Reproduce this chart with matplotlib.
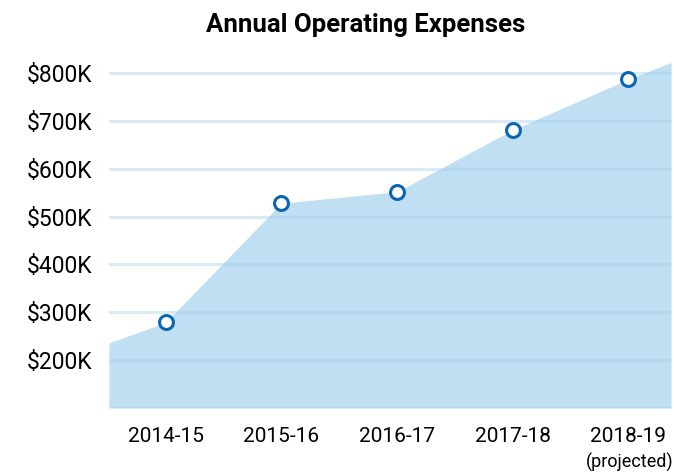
import numpy as np
import matplotlib.pyplot as plt

# fiscal years and expenses (thousands of $)
years = ['2014-15', '2015-16', '2016-17', '2017-18', '2018-19']
expenses = [279, 528, 552, 681, 787]
# area edges extend past the first/last year
area_x = [-0.49, 0, 1, 2, 3, 4, 4.37]
area_y = [236, 279, 528, 552, 681, 787, 822]
yticks = [200, 300, 400, 500, 600, 700, 800]

plt.rcParams['font.family'] = ['Roboto', 'DejaVu Sans']

fig = plt.figure(figsize=(6.74, 4.73), dpi=100)
ax = fig.add_axes([0.1617, 0.1374, 0.834, 0.7385])

x = np.arange(len(years))
ax.fill_between(area_x, area_y, 100, color='#c0dff2', lw=0, zorder=1)

# gridlines over the fill
for g in [100] + yticks:
    ax.axhline(g, color='#a3cfed', alpha=0.4, lw=2.2, zorder=2)

ax.plot(x, expenses, 'o', ms=10, mfc='white', mec='#0a66b5', mew=2.2, zorder=3)

ax.set_xlim(-0.49, 4.37)
ax.set_ylim(100, 830)
ax.set_xticks(x)
ax.set_xticklabels(years, fontsize=15)
ax.set_yticks(yticks)
ax.set_yticklabels(['$%dK' % v for v in yticks], fontsize=16.5)
ax.tick_params(length=0)
ax.tick_params(axis='y', pad=12)
ax.tick_params(axis='x', pad=14)
for s in ax.spines.values():
    s.set_visible(False)

ax.annotate('(projected)', xy=(4, 0), xycoords=('data', 'axes fraction'),
            xytext=(1, -39), textcoords='offset points', ha='center', va='center',
            fontsize=13, annotation_clip=False)

fig.text(0.543, 0.948, 'Annual Operating Expenses', ha='center', va='center',
         fontsize=18.5, fontweight='bold')

fig.savefig('out.png', dpi=100)
